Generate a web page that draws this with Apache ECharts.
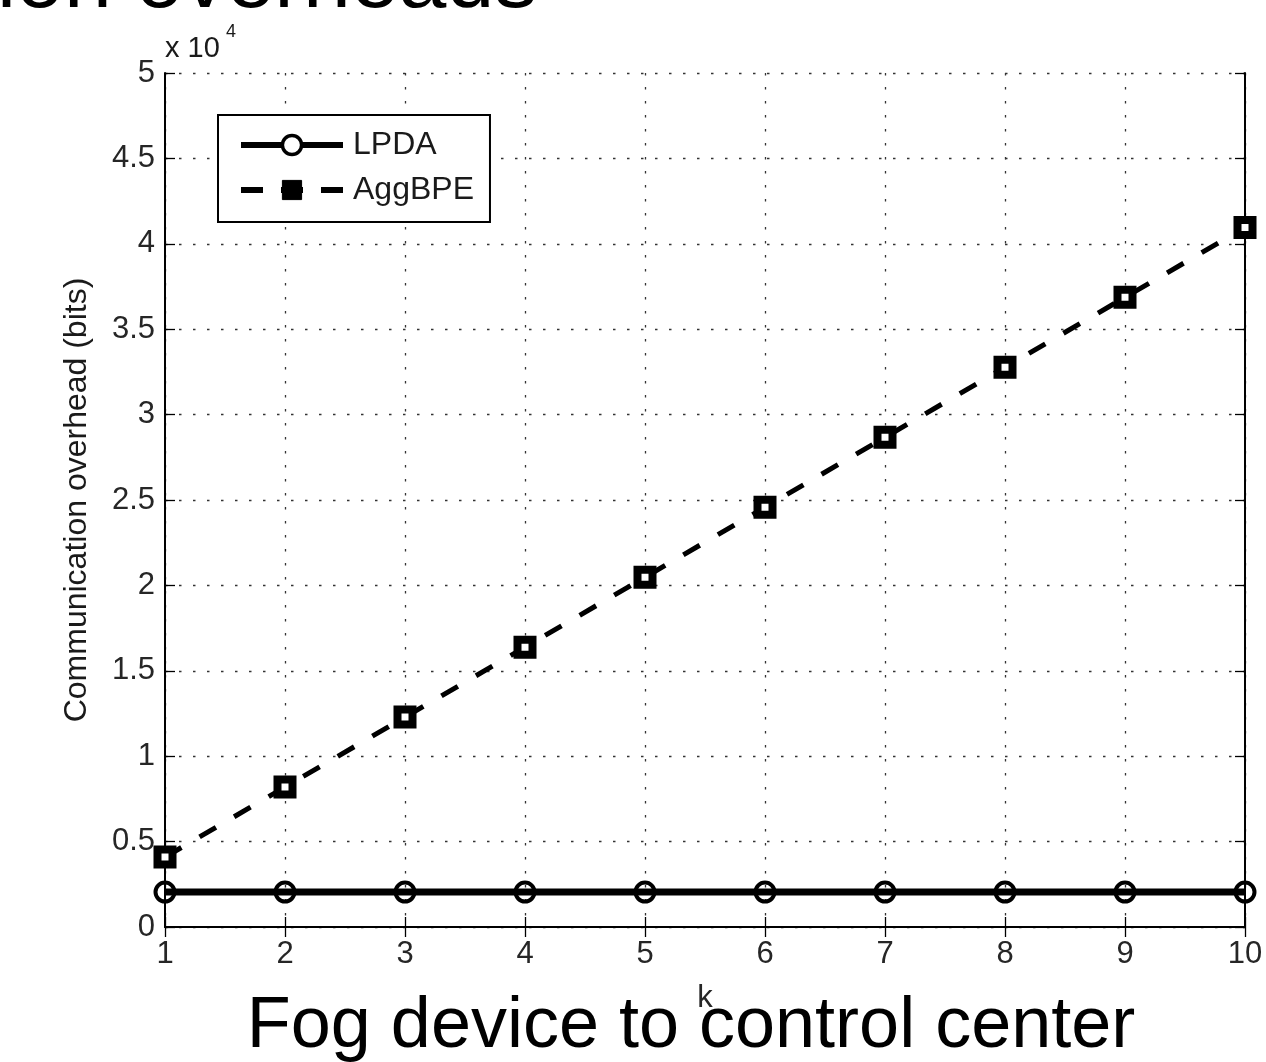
<!DOCTYPE html>
<html>
<head>
<meta charset="utf-8">
<script src="https://cdn.jsdelivr.net/npm/echarts@6/dist/echarts.min.js"></script>
<style>html,body{margin:0;padding:0;background:#fff;}#c{width:1266px;height:1062px;}</style>
</head>
<body>
<div id="c"></div>
<script>
var kValues = [1, 2, 3, 4, 5, 6, 7, 8, 9, 10];
var lpdaBits = [2048, 2048, 2048, 2048, 2048, 2048, 2048, 2048, 2048, 2048];
var aggbpeBits = [4096, 8192, 12288, 16384, 20480, 24576, 28672, 32768, 36864, 40960];
var yTickLabels = ['0', '0.5', '1', '1.5', '2', '2.5', '3', '3.5', '4', '4.5', '5'];

var FONT = 'Liberation Sans, Arial, sans-serif';
var chart = echarts.init(document.getElementById('c'), null, {renderer: 'canvas'});

function pairs(xs, ys) { return xs.map(function (x, i) { return [x, ys[i]]; }); }

var gridDot = {show: true, lineStyle: {color: '#333', width: 1.3, type: [2.5, 11.5]}};
var tickStyle = {show: true, inside: true, length: 10, lineStyle: {color: '#000', width: 1.3}};
var axisLineStyle = {show: true, lineStyle: {color: '#000', width: 2}};

chart.setOption({
  animation: false,
  backgroundColor: '#fff',
  grid: {left: 165, right: 21, top: 73, bottom: 135, show: false},
  legend: {
    show: true,
    left: 218, top: 115,
    orient: 'vertical',
    backgroundColor: '#fff',
    borderColor: '#000', borderWidth: 2, borderRadius: 0,
    padding: [14, 16, 16, 20],
    itemGap: 13,
    itemWidth: 102, itemHeight: 24,
    textStyle: {fontFamily: FONT, fontSize: 32, color: '#1a1a1a', padding: [0, 0, 0, 5]},
    data: [
      {name: 'LPDA',
       lineStyle: {color: '#000', width: 6, type: 'solid'},
       itemStyle: {color: '#fff', borderColor: '#000', borderWidth: 3.5}},
      {name: 'AggBPE',
       lineStyle: {color: '#000', width: 6, type: [22, 18]},
       itemStyle: {color: '#000', borderColor: '#000', borderWidth: 1}}
    ]
  },
  xAxis: [{
    type: 'value', min: 1, max: 10, interval: 1,
    axisLine: axisLineStyle,
    axisTick: tickStyle,
    axisLabel: {fontFamily: FONT, fontSize: 31, color: '#262626', margin: 12},
    splitLine: gridDot,
    name: 'k', nameLocation: 'middle', nameGap: 56,
    nameTextStyle: {fontFamily: FONT, fontSize: 31, color: '#262626'}
  }, {
    type: 'value', min: 1, max: 10, interval: 1, position: 'top',
    axisLine: axisLineStyle,
    axisTick: tickStyle,
    axisLabel: {show: false}, splitLine: {show: false}
  }],
  yAxis: [{
    type: 'value', min: 0, max: 50000, interval: 5000,
    axisLine: axisLineStyle,
    axisTick: tickStyle,
    axisLabel: {fontFamily: FONT, fontSize: 31, color: '#262626', margin: 10,
      formatter: function (v) { return yTickLabels[Math.round(v / 5000)]; }},
    splitLine: gridDot,
    name: 'Communication overhead (bits)', nameLocation: 'middle', nameGap: 72,
    nameTextStyle: {fontFamily: FONT, fontSize: 32, color: '#1a1a1a'}
  }, {
    type: 'value', min: 0, max: 50000, interval: 5000, position: 'right',
    axisLine: axisLineStyle,
    axisTick: tickStyle,
    axisLabel: {show: false}, splitLine: {show: false}
  }],
  series: [{
    name: 'LPDA', type: 'line', data: pairs(kValues, lpdaBits),
    symbol: 'circle', symbolSize: 19, showAllSymbol: true,
    lineStyle: {color: '#000', width: 7, type: 'solid'},
    itemStyle: {color: 'rgba(255,255,255,0)', borderColor: '#000', borderWidth: 4},
    z: 3
  }, {
    name: 'AggBPE', type: 'line', data: pairs(kValues, aggbpeBits),
    symbol: 'rect', symbolSize: 15, showAllSymbol: true,
    lineStyle: {color: '#000', width: 5, type: [19, 21]},
    itemStyle: {color: '#fff', borderColor: '#000', borderWidth: 8},
    z: 3
  }],
  graphic: [
    {type: 'text', x: 165, y: 48.5, style: {text: 'x 10', fontFamily: FONT, fontSize: 29, fill: '#1a1a1a', align: 'left', verticalAlign: 'middle'}},
    {type: 'text', x: 226, y: 32, style: {text: '4', fontFamily: FONT, fontSize: 18, fill: '#1a1a1a', align: 'left', verticalAlign: 'middle'}},
    {type: 'text', x: 691, y: 1027, style: {text: 'Fog device to control center', fontFamily: FONT, fontSize: 72, fill: '#000', align: 'center', verticalAlign: 'middle'}},
    {type: 'text', x: -3, y: -17, style: {text: 'ion overheads', fontFamily: FONT, fontSize: 86, fill: '#000', align: 'left', verticalAlign: 'middle'}}
  ]
});
</script>
</body>
</html>
